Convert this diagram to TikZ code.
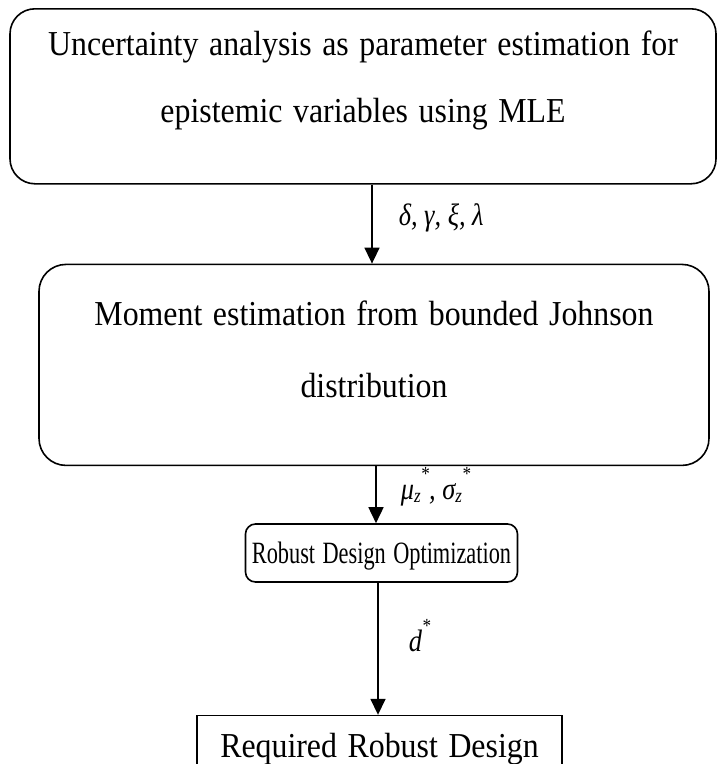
\documentclass[tikz,border=0pt]{standalone}
\usepackage{fontspec}
\setmainfont{Liberation Serif}
\usepackage{graphicx}
\usepackage{tikz}
\usetikzlibrary{positioning}
\usetikzlibrary{arrows.meta}
\newcommand{\squeeze}[2][0.91]{\scalebox{#1}[1]{#2}}
\newcommand{\upstar}{\raisebox{0.62em}{\fontsize{20}{20}\selectfont *}}
\newcommand{\lowz}{\raisebox{-0.12em}{\fontsize{20}{20}\selectfont\itshape z}}
\tikzstyle{stage}=[draw,line width=1.6pt,align=center,inner sep=0pt,font=\fontsize{35}{67}\selectfont]
\tikzstyle{flow}=[-{Triangle[width=15pt,length=16pt]},line width=1.6pt]
\tikzstyle{param}=[anchor=base west,inner sep=0pt,font=\fontsize{31}{40}\selectfont\itshape]

\begin{document}
\begin{tikzpicture}[x=1pt,y=1pt]
	\useasboundingbox (0,0) rectangle (718,-764);
	\clip (0,0) rectangle (718,-764);
	\node[stage,rounded corners=25pt,text width=706pt,text height=47pt,text depth=128pt,anchor=north] (unc) at (363,-8) {\squeeze{Uncertainty analysis as parameter estimation for}\\\squeeze{epistemic variables using MLE}};
	\node[stage,rounded corners=27pt,text width=670pt,text height=61pt,text depth=140pt,below=79pt of unc,xshift=11pt,font=\fontsize{35}{72}\selectfont] (mom) {\squeeze{Moment estimation from bounded Johnson}\\\squeeze{distribution}};
	\node[stage,rounded corners=10pt,text width=272pt,text height=39pt,text depth=19pt,below=57pt of mom,xshift=7.5pt,font=\fontsize{31}{40}\selectfont] (rdo) {\squeeze[0.72]{Robust Design Optimization}};
	\node[stage,text width=365pt,text height=42pt,text depth=50pt,below=132pt of rdo,xshift=-2pt] (req) {\squeeze{Required Robust Design}};
	
	\draw[flow] ([xshift=9pt]unc.south) -- node[param,xshift=26pt,pos=0.52] (pest) {\squeeze[0.85]{δ, γ, ξ, λ}} ([xshift=-2pt]mom.north);
	\draw[flow] ([xshift=2pt]mom.south) -- node[param,xshift=24pt,pos=0.58] (mest) {\squeeze[0.85]{μ\lowz\upstar, σ\lowz\upstar}} ([xshift=-5.5pt]rdo.north);
	\draw[flow] ([xshift=-3.5pt]rdo.south) -- node[param,xshift=30pt,pos=0.52] (dopt) {\squeeze[0.85]{d\upstar}} ([xshift=-1.5pt]req.north);
\end{tikzpicture}
\end{document}
